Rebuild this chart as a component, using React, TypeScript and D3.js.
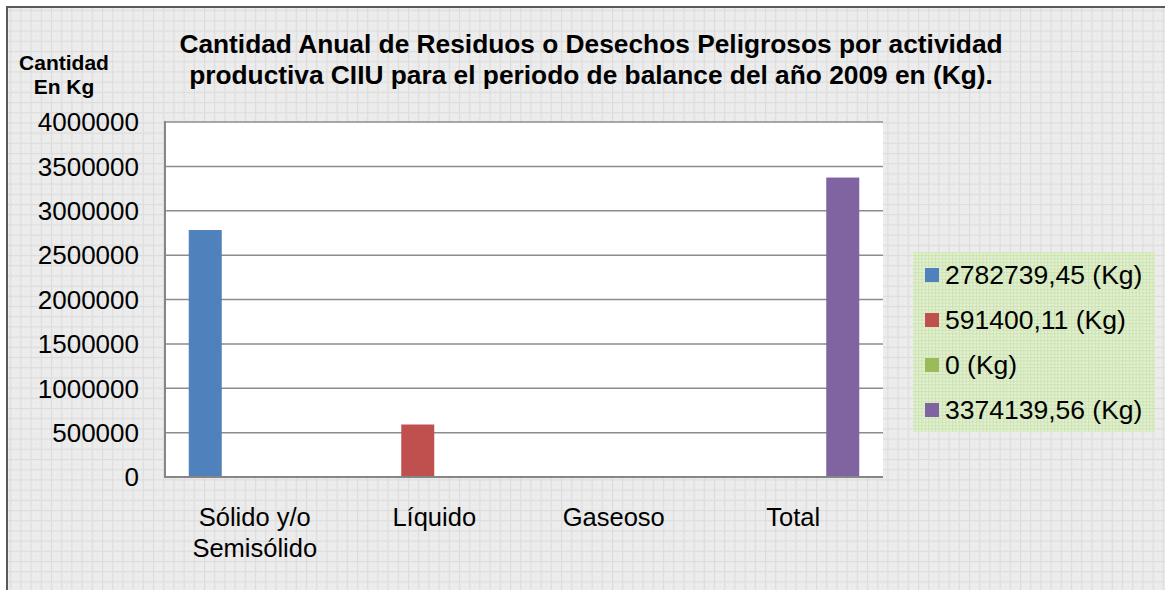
import React from "react";
import * as d3 from "d3";

const categories = ["Sólido y/o\nSemisólido", "Líquido", "Gaseoso", "Total"];
const seriesNames = ["2782739,45 (Kg)", "591400,11 (Kg)", "0 (Kg)", "3374139,56 (Kg)"];
const seriesValues = [
  [2782739.45, 0, 0, 0],
  [0, 591400.11, 0, 0],
  [0, 0, 0, 0],
  [0, 0, 0, 3374139.56],
];
const seriesColors = ["#4f81bd", "#c0504d", "#9bbb59", "#8064a2"];
const yTicks = [0, 500000, 1000000, 1500000, 2000000, 2500000, 3000000, 3500000, 4000000];
const titleLines = [
  "Cantidad Anual de Residuos o Desechos Peligrosos por actividad",
  "productiva CIIU para el periodo de balance del año 2009 en (Kg).",
];
const yLabelLines = ["Cantidad", "En Kg"];

const W = 1165, H = 590;
const plot = { left: 165, right: 883, top: 122, bottom: 477 };
const font = "Arial, 'Liberation Sans', sans-serif";

export default function App() {
  const x = d3.scaleBand<string>().domain(categories).range([plot.left, plot.right]).padding(0);
  const xs = d3
    .scaleBand<number>()
    .domain(d3.range(seriesNames.length))
    .range([0, x.bandwidth()])
    .paddingInner(0)
    .paddingOuter(0.72);
  const y = d3.scaleLinear().domain([0, 4000000]).range([plot.bottom, plot.top]);

  return (
    <svg width={W} height={H} style={{ position: "absolute", left: 0, top: 0 }} fontFamily={font}>
      <defs>
        <pattern id="bgp" width="10.2" height="10.2" patternUnits="userSpaceOnUse">
          <rect width="10.2" height="10.2" fill="#ebebeb" />
          <rect x="0" y="0" width="10.2" height="1" fill="#dcdcdc" />
          <rect x="0" y="0" width="1" height="10.2" fill="#dcdcdc" />
          <rect x="3" y="3" width="1" height="1" fill="#f8f8f8" />
          <rect x="7" y="7" width="1" height="1" fill="#f8f8f8" />
          <rect x="3" y="7" width="1" height="1" fill="#f8f8f8" />
          <rect x="7" y="3" width="1" height="1" fill="#f8f8f8" />
        </pattern>
        <pattern id="lgp" width="3.4" height="3.4" patternUnits="userSpaceOnUse">
          <rect width="3.4" height="3.4" fill="#e3f0d4" />
          <rect x="0" y="0" width="3.4" height="1" fill="#cce4b0" />
          <rect x="0" y="0" width="1" height="3.4" fill="#cce4b0" />
        </pattern>
      </defs>
      <rect x={0} y={0} width={W} height={H} fill="#ffffff" />
      <rect x={7} y={7} width={W + 20} height={H + 20} fill="url(#bgp)" stroke="#5a5a5a" strokeWidth={2} />

      {/* plot area */}
      <rect x={plot.left} y={plot.top} width={plot.right - plot.left} height={plot.bottom - plot.top} fill="#ffffff" />
      {yTicks.map((t) => (
        <line key={t} x1={plot.left} x2={plot.right} y1={y(t)} y2={y(t)} stroke="#8c8c8c" strokeWidth={1.5} />
      ))}

      {/* bars */}
      {seriesValues.map((vals, si) =>
        vals.map((v, ci) =>
          v > 0 ? (
            <rect
              key={`${si}-${ci}`}
              x={(x(categories[ci]) as number) + (xs(si) as number)}
              y={y(v)}
              width={xs.bandwidth()}
              height={y(0) - y(v)}
              fill={seriesColors[si]}
            />
          ) : null
        )
      )}

      {/* axes */}
      <line x1={plot.left} x2={plot.left} y1={plot.top - 1} y2={plot.bottom + 1} stroke="#868686" strokeWidth={2} />
      <line x1={plot.left - 1} x2={plot.right} y1={plot.bottom} y2={plot.bottom} stroke="#868686" strokeWidth={2} />

      {/* y tick labels */}
      {yTicks.map((t) => (
        <text key={t} x={139} y={y(t)} dy="0.36em" textAnchor="end" fontSize={26} fill="#000">
          {String(t)}
        </text>
      ))}

      {/* x category labels */}
      {categories.map((c) => (
        <text key={c} textAnchor="middle" fontSize={25.5} fill="#000">
          {c.split("\n").map((ln, i) => (
            <tspan key={i} x={(x(c) as number) + x.bandwidth() / 2} y={526 + i * 31}>
              {ln}
            </tspan>
          ))}
        </text>
      ))}

      {/* title */}
      {titleLines.map((ln, i) => (
        <text key={i} x={591} y={53 + i * 31} textAnchor="middle" fontSize={26.3} fontWeight="bold" fill="#000">
          {ln}
        </text>
      ))}

      {/* y label */}
      {yLabelLines.map((ln, i) => (
        <text key={i} x={64} y={70 + i * 24} textAnchor="middle" fontSize={21} fontWeight="bold" fill="#000">
          {ln}
        </text>
      ))}

      {/* legend */}
      <rect x={913} y={252} width={242} height={180} fill="url(#lgp)" />
      {seriesNames.map((n, i) => (
        <g key={n}>
          <rect x={925} y={268 + i * 45} width={14} height={14} fill={seriesColors[i]} />
          <text x={945} y={284 + i * 45} fontSize={26.5} fill="#000">
            {n}
          </text>
        </g>
      ))}
    </svg>
  );
}
